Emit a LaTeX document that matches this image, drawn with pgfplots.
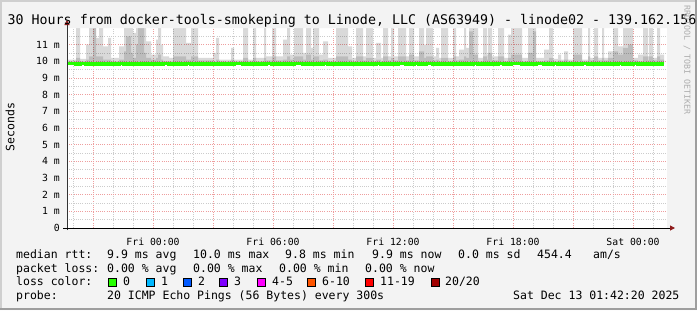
\documentclass[border=0pt]{standalone}
\usepackage{pgfplots}
\pgfplotsset{compat=1.18}
\usepackage{pgfplotstable}
\usepgfplotslibrary{fillbetween}
\usetikzlibrary{arrows.meta}
\usepackage{fontspec}
\setmainfont{DejaVu Sans Mono}

\definecolor{canvas}{HTML}{F3F3F3}
\definecolor{framelight}{HTML}{CFCFCF}
\definecolor{framedark}{HTML}{9E9E9E}
\definecolor{majgrid}{HTML}{EE9E9E}
\definecolor{mingrid}{HTML}{CCCCCC}
\definecolor{arrowred}{HTML}{8E1B1B}
\definecolor{loss0}{HTML}{26FF00}
\definecolor{loss1}{HTML}{00B8FF}
\definecolor{loss2}{HTML}{0059FF}
\definecolor{loss3}{HTML}{7E00FF}
\definecolor{loss4}{HTML}{FF00FF}
\definecolor{loss6}{HTML}{FF5500}
\definecolor{loss11}{HTML}{FF0000}
\definecolor{loss20}{HTML}{A10000}

\pgfplotstableread{
h mx md med
-4.25 10.1 10.0 9.86
-3.85 12.5 10.2 9.85
-3.65 10.15 10.0 9.86
-3.35 11.0 10.1 9.85
-3.2 12.5 10.3 9.86
-3.0 12.5 12.5 9.85
-2.85 11.4 10.3 9.85
-2.7 12.5 10.3 9.86
-2.5 10.9 10.1 9.85
-2.25 11.4 10.1 9.84
-2.1 10.2 10.0 9.85
-1.7 10.9 10.1 9.86
-1.45 12.5 10.6 9.85
-1.35 12.5 11.5 9.85
-1.1 12.5 10.5 9.86
-1.0 11.7 10.2 9.85
-0.85 12.5 11.0 9.84
-0.75 12.5 12.5 9.85
-0.45 12.5 10.5 9.86
-0.35 11.2 10.2 9.85
-0.1 10.4 10.1 9.85
0.15 11.3 10.2 9.86
0.25 12.5 10.4 9.85
0.4 11.0 10.1 9.85
0.5 10.3 10.0 9.86
0.8 10.2 10.0 9.85
1.0 12.5 10.3 9.85
1.65 11.1 10.1 9.86
1.9 12.5 10.3 9.85
2.25 10.2 10.05 9.84
3.0 10.5 10.0 9.85
3.15 11.4 10.1 9.86
3.3 10.1 10.0 9.85
3.9 10.8 10.1 9.85
4.05 10.1 10.0 9.86
4.5 12.5 10.2 9.85
4.75 10.1 10.0 9.85
5.0 12.5 10.2 9.86
5.15 10.2 10.0 9.85
5.55 12.5 10.2 9.85
5.65 10.3 10.05 9.86
5.95 12.5 10.3 9.85
6.15 10.3 10.05 9.85
6.5 11.3 10.1 9.86
6.7 12.5 10.3 9.85
6.85 10.4 10.1 9.85
7.05 12.5 10.3 9.86
7.5 10.5 10.1 9.85
7.65 12.5 10.4 9.85
7.9 10.8 10.1 9.86
8.0 12.5 10.3 9.85
8.3 10.4 10.05 9.85
8.5 11.2 10.1 9.86
8.75 10.2 10.0 9.85
9.15 12.5 10.3 9.85
9.75 10.9 10.1 9.86
9.95 10.2 10.0 9.85
10.15 12.5 10.3 9.85
10.5 10.3 10.05 9.86
10.65 12.5 10.2 9.85
11.0 10.2 10.0 9.85
11.15 11.1 10.1 9.86
11.4 10.2 10.0 9.85
11.5 12.5 10.3 9.85
11.75 10.3 10.05 9.86
11.9 12.5 10.2 9.85
12.05 10.3 10.05 9.85
12.25 12.5 10.3 9.86
12.65 10.3 10.05 9.85
12.8 12.5 10.4 9.85
13.05 10.3 10.05 9.86
13.3 12.5 10.6 9.85
13.55 11.0 10.2 9.85
13.65 12.5 10.3 9.86
14.0 10.3 10.05 9.85
14.15 10.8 10.1 9.85
14.3 10.2 10.0 9.86
14.4 12.5 10.2 9.85
14.75 10.2 10.0 9.85
15.0 12.5 10.3 9.86
15.15 10.3 10.05 9.85
15.3 10.7 10.1 9.85
15.55 12.5 10.3 9.86
15.65 10.8 10.2 9.85
15.8 12.5 11.8 9.85
16.0 12.5 10.4 9.86
16.25 10.2 10.0 9.85
16.5 12.5 10.3 9.85
16.7 10.4 10.1 9.86
16.75 12.5 10.5 9.85
16.95 10.3 10.05 9.85
17.25 12.5 10.3 9.86
17.55 10.2 10.0 9.85
17.75 11.6 10.2 9.85
17.9 12.5 10.4 9.86
18.45 10.2 10.0 9.85
18.75 12.5 10.5 9.84
19.0 12.5 11.8 9.85
19.15 10.2 10.0 9.86
19.55 10.7 10.05 9.85
19.8 12.5 10.2 9.85
20.0 10.15 10.0 9.86
20.25 10.4 10.05 9.85
20.4 10.1 10.0 9.85
20.55 10.6 10.1 9.86
20.75 10.1 10.0 9.85
21.0 12.5 10.4 9.85
21.45 10.1 10.0 9.86
21.75 12.5 10.3 9.85
21.85 10.2 10.05 9.85
22.05 12.5 10.3 9.86
22.25 10.2 10.05 9.85
22.45 12.5 10.2 9.85
22.55 10.2 10.05 9.86
22.75 10.6 10.2 9.85
23.0 12.5 10.6 9.85
23.25 10.9 10.4 9.86
23.5 12.5 10.8 9.85
23.75 12.5 11.0 9.85
24.0 10.2 10.05 9.86
24.25 10.4 10.0 9.85
24.5 12.5 10.3 9.85
24.75 10.3 10.05 9.86
24.8 12.5 10.3 9.85
25.0 10.2 10.05 9.85
25.2 12.5 10.3 9.86
25.35 10.4 10.1 9.85
25.55 10.4 10.1 9.85
}\smoke

\newcommand{\legfont}{\fontsize{11.5bp}{13bp}\selectfont}

\begin{document}
\begin{tikzpicture}[x=1bp,y=1bp]
\fill[canvas, even odd rule] (0,0) rectangle (697,310) (67,82) rectangle (667,282);
\draw[framelight, line width=2bp] (1,0) -- (1,309) -- (697,309);
\draw[framedark, line width=2bp] (0,1) -- (696,1) -- (696,310);

\begin{axis}[
  at={(67bp,82bp)}, anchor=south west,
  scale only axis, width=600bp, height=200bp,
  xmin=-4.3, xmax=25.7, ymin=0, ymax=12,
  axis background/.style={fill=white},
  axis line style={draw=none},
  xtick={-3,0,3,6,9,12,15,18,21,24},
  xticklabels={,Fri 00:00,,Fri 06:00,,Fri 12:00,,Fri 18:00,,Sat 00:00},
  minor xtick={-4,-2,-1,1,2,4,5,7,8,10,11,13,14,16,17,19,20,22,23,25},
  ytick={0,1,2,3,4,5,6,7,8,9,10,11},
  yticklabels={0,1 m,2 m,3 m,4 m,5 m,6 m,7 m,8 m,9 m,10 m,11 m},
  minor ytick={0.5,1.5,2.5,3.5,4.5,5.5,6.5,7.5,8.5,9.5,10.5,11.5},
  xtick pos=left, ytick pos=left,
  tick align=outside,
  major tick length=4bp, minor tick length=0pt,
  tick style={black, line width=0.8bp},
  grid=both,
  major grid style={majgrid, line width=0.8bp, dash pattern=on 1bp off 1.2bp},
  minor grid style={mingrid, line width=0.8bp, dash pattern=on 1bp off 1.2bp},
  tick label style={font=\fontsize{9.8bp}{11bp}\selectfont},
  xticklabel style={anchor=base, yshift=-13bp},
  yticklabel style={anchor=east, inner sep=0pt, xshift=-3bp},
]
\addplot[const plot, draw=none, name path=mx] table[x=h,y=mx]{\smoke};
\addplot[const plot, draw=none, name path=md] table[x=h,y=md]{\smoke};
\addplot[draw=none, name path=base] coordinates {(-4.25,9.85) (25.55,9.85)};
\addplot[fill=black, fill opacity=0.15, draw=none] fill between[of=mx and base];
\addplot[fill=black, fill opacity=0.13, draw=none] fill between[of=md and base];
\addplot[const plot, line width=3.6bp, color=loss0] table[x=h,y=med]{\smoke};
\end{axis}

% axes with arrows
\draw[black!80, line width=1bp, -{Triangle[length=5bp,width=5bp,color=arrowred,fill=arrowred]}] (67,80) -- (67,290);
\draw[black, line width=1bp, -{Triangle[length=5bp,width=5bp,color=arrowred,fill=arrowred]}] (63,82) -- (675,82);

% title
\node[anchor=base west, inner sep=0pt, font=\fontsize{13.3bp}{15bp}\selectfont] at (7.5,286) {30 Hours from docker-tools-smokeping to Linode, LLC (AS63949) - linode02 - 139.162.156};

% side texts
\node[rotate=90, inner sep=0pt, font=\legfont] at (10,183) {Seconds};
\node[rotate=-90, inner sep=0pt, text=black!32, font=\fontsize{8.3bp}{9bp}\selectfont] at (687,250) {RRDTOOL / TOBI OETIKER};

% legend
\begin{scope}[every node/.style={anchor=base west, inner sep=0pt, font=\legfont}]
\node at (16,51.5) {median rtt:};
\node at (107,51.5) {9.9 ms avg};
\node at (193,51.5) {10.0 ms max};
\node at (285,51.5) {9.8 ms min};
\node at (372,51.5) {9.9 ms now};
\node at (458,51.5) {0.0 ms sd};
\node at (537,51.5) {454.4};
\node at (593,51.5) {am/s};

\node at (16,38) {packet loss:};
\node at (107,38) {0.00 \% avg};
\node at (193,38) {0.00 \% max};
\node at (279,38) {0.00 \% min};
\node at (365,38) {0.00 \% now};

\node at (16,24.5) {loss color:};
\node at (123,24.5) {0};
\node at (161,24.5) {1};
\node at (198,24.5) {2};
\node at (234,24.5) {3};
\node at (272,24.5) {4-5};
\node at (322,24.5) {6-10};
\node at (380,24.5) {11-19};
\node at (445,24.5) {20/20};

\node at (16,11) {probe:};
\node at (107,11) {20 ICMP Echo Pings (56 Bytes) every 300s};
\node at (513,11) {Sat Dec 13 01:42:20 2025};
\end{scope}

\begin{scope}[line width=0.8bp, draw=black]
\filldraw[fill=loss0]  (108.5,24) rectangle (116.5,32);
\filldraw[fill=loss1]  (146,24) rectangle (154,32);
\filldraw[fill=loss2]  (183,24) rectangle (191,32);
\filldraw[fill=loss3]  (219.5,24) rectangle (227.5,32);
\filldraw[fill=loss4]  (257,24) rectangle (265,32);
\filldraw[fill=loss6]  (307.5,24) rectangle (315.5,32);
\filldraw[fill=loss11] (365.5,24) rectangle (373.5,32);
\filldraw[fill=loss20] (431,24) rectangle (439,32);
\end{scope}
\pgfresetboundingbox
\useasboundingbox (0,0) rectangle (697,310);
\end{tikzpicture}
\end{document}
